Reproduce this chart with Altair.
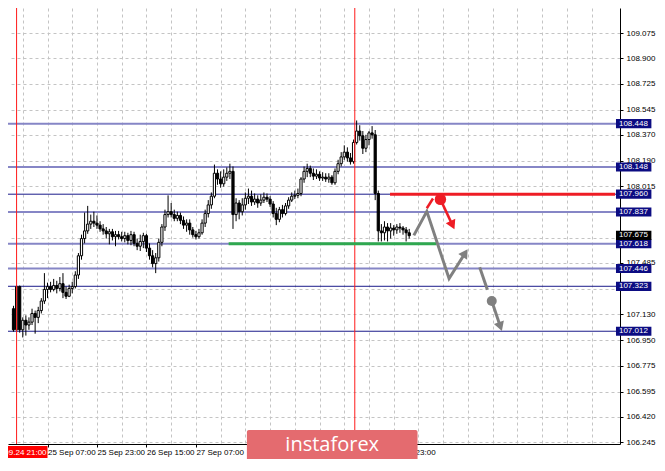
import math
import altair as alt
import pandas as pd

# ---------------- data ----------------
bar_index = list(range(-1, 128))          # H1 bars, 0 = 2019.09.24 21:00
first_open = 107.168
close = [
    107.022, 107.321, 107.022, 107.088, 107.055, 107.075, 107.135, 107.108, 107.155, 107.221,
    107.301, 107.321, 107.301, 107.328, 107.308, 107.341, 107.281, 107.254, 107.308, 107.321,
    107.401, 107.534, 107.653, 107.706, 107.753, 107.773, 107.760, 107.746, 107.720, 107.706,
    107.686, 107.700, 107.666, 107.680, 107.666, 107.653, 107.673, 107.640, 107.680, 107.620,
    107.600, 107.633, 107.673, 107.587, 107.534, 107.480, 107.520, 107.627, 107.733, 107.819,
    107.839, 107.819, 107.793, 107.813, 107.779, 107.746, 107.760, 107.713, 107.680, 107.666,
    107.693, 107.760, 107.826, 107.886, 107.946, 108.105, 108.065, 108.032, 108.078, 108.105,
    108.118, 107.819, 107.899, 107.839, 107.886, 107.932, 107.946, 107.906, 107.926, 107.899,
    107.919, 107.939, 107.926, 107.892, 107.826, 107.786, 107.853, 107.826, 107.879, 107.919,
    107.946, 107.952, 107.965, 108.065, 108.118, 108.138, 108.105, 108.085, 108.098, 108.072,
    108.078, 108.065, 108.078, 108.039, 108.118, 108.171, 108.218, 108.251, 108.211, 108.185,
    108.318, 108.397, 108.364, 108.278, 108.338, 108.384, 108.371, 107.965, 107.706, 107.693,
    107.733, 107.706, 107.726, 107.713, 107.733, 107.726, 107.713, 107.693, 107.673,
]
high = [
    107.188, 107.328, 107.328, 107.108, 107.122, 107.108, 107.168, 107.155, 107.181, 107.241,
    107.414, 107.348, 107.354, 107.374, 107.361, 107.387, 107.414, 107.321, 107.334, 107.354,
    107.427, 107.553, 107.680, 107.833, 107.879, 107.819, 107.839, 107.813, 107.773, 107.753,
    107.733, 107.720, 107.720, 107.706, 107.706, 107.700, 107.700, 107.693, 107.706, 107.700,
    107.653, 107.680, 107.693, 107.686, 107.620, 107.573, 107.553, 107.653, 107.753, 107.853,
    107.952, 107.899, 107.853, 107.839, 107.833, 107.806, 107.786, 107.786, 107.733, 107.706,
    107.720, 107.786, 107.853, 107.919, 107.972, 108.165, 108.132, 108.118, 108.132, 108.145,
    108.171, 108.152, 107.932, 107.919, 107.932, 107.972, 107.999, 107.985, 107.965, 107.952,
    107.959, 107.972, 107.965, 107.946, 107.912, 107.866, 107.872, 107.886, 107.899, 107.939,
    107.972, 107.985, 107.999, 108.078, 108.152, 108.171, 108.158, 108.138, 108.132, 108.118,
    108.112, 108.105, 108.105, 108.092, 108.138, 108.198, 108.251, 108.298, 108.284, 108.245,
    108.338, 108.470, 108.437, 108.397, 108.371, 108.397, 108.431, 108.404, 107.985, 107.753,
    107.773, 107.760, 107.760, 107.746, 107.753, 107.760, 107.740, 107.733, 107.720,
]
low = [
    107.009, 107.009, 107.002, 106.969, 106.982, 107.022, 107.055, 106.995, 107.068, 107.135,
    107.201, 107.241, 107.281, 107.288, 107.274, 107.288, 107.241, 107.235, 107.248, 107.274,
    107.308, 107.374, 107.507, 107.620, 107.686, 107.720, 107.733, 107.720, 107.700, 107.680,
    107.653, 107.613, 107.640, 107.600, 107.647, 107.633, 107.627, 107.613, 107.607, 107.600,
    107.573, 107.567, 107.587, 107.560, 107.507, 107.454, 107.414, 107.494, 107.600, 107.706,
    107.799, 107.799, 107.773, 107.773, 107.753, 107.720, 107.700, 107.680, 107.660, 107.647,
    107.653, 107.680, 107.733, 107.799, 107.859, 107.932, 108.025, 108.005, 108.012, 108.052,
    108.065, 107.720, 107.773, 107.786, 107.813, 107.853, 107.892, 107.879, 107.886, 107.866,
    107.879, 107.899, 107.906, 107.872, 107.799, 107.746, 107.766, 107.799, 107.813, 107.859,
    107.906, 107.926, 107.932, 107.946, 108.039, 108.078, 108.078, 108.058, 108.065, 108.052,
    108.052, 108.045, 108.039, 108.025, 108.025, 108.098, 108.152, 108.198, 108.185, 108.165,
    108.171, 108.304, 108.331, 108.238, 108.251, 108.298, 108.344, 107.919, 107.633, 107.633,
    107.640, 107.633, 107.653, 107.673, 107.686, 107.693, 107.680, 107.633, 107.653,
]

y_ticks = [109.075, 108.900, 108.725, 108.545, 108.370, 108.190, 108.015, 107.835, 107.660,
           107.485, 107.305, 107.130, 106.950, 106.775, 106.595, 106.420, 106.245]
y_hidden_labels = [107.835, 107.660, 107.305]     # covered by the price boxes in the original
x_grid = list(range(2, 194, 8))
x_label_pos = [10, 26, 42, 58, 122]
x_label_text = ["25 Sep 07:00", "25 Sep 23:00", "26 Sep 15:00", "27 Sep 07:00", "1 Oct 23:00"]

light_levels = [108.448, 108.148, 107.837, 107.618, 107.446]
dark_levels = [107.960, 107.323, 107.012]
current_price = 107.675
vline_bars = [0.0, 109.4]
vline_label = "2019.09.24 21:00"

resistance = {"level": 107.960, "start": 120.8}
support = {"level": 107.618, "start": 68.6, "end": 135.8}

gray_path_i = [128.5, 132.7, 139.9, 145.1]
gray_path_p = [107.675, 107.841, 107.376, 107.553]
gray_seg_i = [149.8, 152.3]
gray_seg_p = [107.454, 107.299]
gray_arrow_i = [153.7, 156.5]
gray_arrow_p = [107.221, 107.044]
red_seg_i = [132.7, 134.7]
red_seg_p = [107.863, 107.930]
red_arrow_i = [137.1, 141.0]
red_arrow_p = [107.924, 107.746]
watermark_text = "instaforex"

# ---------------- layout ----------------
X_MIN, X_MAX = -1.16, 193.57
Y_MIN, Y_MAX = 106.232, 109.248
W, H = 612, 436
kx = W / (X_MAX - X_MIN)
ky = H / (Y_MAX - Y_MIN)
FONT = "Liberation Sans"

opens = [first_open] + close[:-1]
candles = pd.DataFrame({"i": bar_index, "open": opens, "close": close, "high": high, "low": low})
candles["high"] = candles[["high", "open", "close"]].max(axis=1)
candles["low"] = candles[["low", "open", "close"]].min(axis=1)
candles["up"] = candles["close"] >= candles["open"]

xs = alt.Scale(domain=[X_MIN, X_MAX], nice=False, zero=False)
ys = alt.Scale(domain=[Y_MIN, Y_MAX], nice=False, zero=False)

label_expr = " : ".join(f"datum.value == {p} ? '{t}'" for p, t in zip(x_label_pos, x_label_text)) + " : ''"
tick_test = "indexof([" + ",".join(str(p) for p in x_label_pos) + "], datum.value) >= 0"
y_label_expr = ("indexof([" + ",".join(f"'{v:.3f}'" for v in y_hidden_labels) +
                "], format(datum.value, '.3f')) >= 0 ? '' : format(datum.value, '.3f')")

xaxis = alt.Axis(values=x_grid, grid=True, gridColor="#c4c4c4", gridDash=[3, 3], gridWidth=1,
                 labelExpr=label_expr, labelAlign="left", labelPadding=1, labelFontSize=8,
                 labelFont=FONT, labelColor="black", labelFlush=False, labelOverlap=False,
                 tickSize=3, tickColor={"condition": {"test": tick_test, "value": "black"},
                                        "value": "rgba(0,0,0,0)"},
                 domainColor="black", title=None)
yaxis = alt.Axis(orient="right", values=y_ticks, labelExpr=y_label_expr, grid=True,
                 gridColor="#c4c4c4", gridDash=[3, 3], gridWidth=1, labelFontSize=8, labelFont=FONT,
                 labelColor="black", labelPadding=3, tickSize=3, tickColor="black",
                 domainColor="black", title=None, labelOverlap=False, labelFlush=False)


def X(f):
    return alt.X(f, type="quantitative", scale=xs, axis=xaxis)


def Y(f):
    return alt.Y(f, type="quantitative", scale=ys, axis=yaxis)


layers = []

# horizontal levels
light_df = pd.DataFrame({"level": light_levels})
dark_df = pd.DataFrame({"level": dark_levels})
layers.append(alt.Chart(light_df).mark_rule(color="#8686c6", strokeWidth=2).encode(y=Y("level")))
layers.append(alt.Chart(dark_df).mark_rule(color="#1b1b8a", strokeWidth=1).encode(y=Y("level")))

# candles
layers.append(alt.Chart(candles).mark_rule(color="black", strokeWidth=1).encode(
    x=X("i"), y=Y("low"), y2="high"))
layers.append(alt.Chart(candles).mark_bar(size=2.2, stroke="black", strokeWidth=1).encode(
    x=X("i"), y=Y("open"), y2="close",
    fill=alt.condition("datum.up", alt.value("white"), alt.value("black"))))

# red vertical lines
layers.append(alt.Chart(pd.DataFrame({"i": vline_bars})).mark_rule(color="#ff1a1a", strokeWidth=1).encode(
    x=X("i")))

# resistance (red) and support (green) segments
res_df = pd.DataFrame({"x0": [resistance["start"]], "x1": [X_MAX], "level": [resistance["level"]]})
sup_df = pd.DataFrame({"x0": [support["start"]], "x1": [support["end"]], "level": [support["level"]]})
layers.append(alt.Chart(res_df).mark_rule(color="#ee1c25", strokeWidth=3).encode(
    x=X("x0"), x2="x1", y=Y("level")))
layers.append(alt.Chart(sup_df).mark_rule(color="#2fa84f", strokeWidth=3).encode(
    x=X("x0"), x2="x1", y=Y("level")))


# forecast paths
def path_df(xs_, ps_, name):
    return pd.DataFrame({"i": xs_, "p": ps_, "seg": name, "o": list(range(len(xs_)))})


gray_df = pd.concat([path_df(gray_path_i, gray_path_p, "a"), path_df(gray_seg_i, gray_seg_p, "b"),
                     path_df(gray_arrow_i, gray_arrow_p, "c")])
red_df = pd.concat([path_df(red_seg_i, red_seg_p, "a"), path_df(red_arrow_i, red_arrow_p, "b")])
layers.append(alt.Chart(gray_df).mark_line(color="#808080", strokeWidth=3, strokeCap="butt").encode(
    x=X("i"), y=Y("p"), detail="seg:N", order="o:Q"))
layers.append(alt.Chart(red_df).mark_line(color="#ee1c25", strokeWidth=2.5, strokeCap="butt").encode(
    x=X("i"), y=Y("p"), detail="seg:N", order="o:Q"))


def head(xs_, ps_):
    dx = (xs_[-1] - xs_[-2]) * kx
    dy = -(ps_[-1] - ps_[-2]) * ky
    return math.degrees(math.atan2(dx, -dy)) % 360


heads = [
    (gray_path_i, gray_path_p, "#808080"),
    (gray_arrow_i, gray_arrow_p, "#808080"),
    (red_arrow_i, red_arrow_p, "#ee1c25"),
]
for hx, hp, col in heads:
    ang = head(hx, hp)
    hdf = pd.DataFrame({"i": [hx[-1]], "p": [hp[-1]]})
    layers.append(alt.Chart(hdf).mark_point(shape="triangle-up", filled=True, size=110, opacity=1,
                                            color=col, angle=ang).encode(x=X("i"), y=Y("p")))

layers.append(alt.Chart(pd.DataFrame({"i": [gray_arrow_i[0]], "p": [gray_arrow_p[0]]})).mark_point(
    filled=True, size=100, opacity=1, color="#808080").encode(x=X("i"), y=Y("p")))
layers.append(alt.Chart(pd.DataFrame({"i": [red_arrow_i[0]], "p": [red_arrow_p[0]]})).mark_point(
    filled=True, size=130, opacity=1, color="#ee1c25").encode(x=X("i"), y=Y("p")))

# right-side price boxes
box_levels = light_levels + dark_levels
box_df = pd.DataFrame({"level": box_levels + [current_price],
                       "kind": ["line"] * len(box_levels) + ["current"]})
box_df["label"] = box_df["level"].map(lambda v: f"{v:.3f}")
half = 4.6 / ky
box_df["y0"] = box_df["level"] - half
box_df["y1"] = box_df["level"] + half
box_df["x0"] = X_MAX + 1.0 / kx
box_df["x1"] = X_MAX + 37 / kx
box_df["tx"] = X_MAX + 4 / kx
layers.append(alt.Chart(box_df).mark_rect().encode(
    x=X("x0"), x2="x1", y=Y("y0"), y2="y1",
    fill=alt.condition("datum.kind == 'current'", alt.value("black"), alt.value("#0c0c82"))))
layers.append(alt.Chart(box_df).mark_text(align="left", baseline="middle", color="white",
                                          fontSize=8, font=FONT).encode(
    x=X("tx"), y=Y("level"), text="label:N"))

# bottom-left red time label of the vertical line
vl_df = pd.DataFrame({"x0": [X_MIN - 20], "x1": [10.0], "y0": [Y_MIN - 2 / ky], "y1": [Y_MIN - 14 / ky],
                      "tx": [9.7], "ty": [Y_MIN - 8.5 / ky], "t": [vline_label]})
layers.append(alt.Chart(vl_df).mark_rect(color="#ff0000").encode(x=X("x0"), x2="x1", y=Y("y0"), y2="y1"))
layers.append(alt.Chart(vl_df).mark_text(align="right", baseline="middle", color="white",
                                         fontSize=8, font=FONT).encode(x=X("tx"), y=Y("ty"), text="t:N"))

# watermark
wm_df = pd.DataFrame({"x0": [74.5], "x1": [129.7], "y0": [Y_MIN + 14 / ky], "y1": [Y_MIN - 17 / ky],
                      "tx": [102.1], "ty": [Y_MIN - 1 / ky], "t": [watermark_text]})
layers.append(alt.Chart(wm_df).mark_rect(color="#e46b6f", cornerRadius=2).encode(
    x=X("x0"), x2="x1", y=Y("y0"), y2="y1"))
layers.append(alt.Chart(wm_df).mark_text(align="center", baseline="middle", color="white",
                                         fontSize=20, font="Open Sans").encode(
    x=X("tx"), y=Y("ty"), text="t:N"))

chart = alt.layer(*layers).properties(
    width=W, height=H,
    autosize=alt.AutoSizeParams(type="none"),
    padding={"left": 0, "top": 0, "right": 37, "bottom": 15},
    background="white",
).configure_view(strokeWidth=0)

chart.save("out.html", embed_options={"renderer": "svg", "actions": False})
